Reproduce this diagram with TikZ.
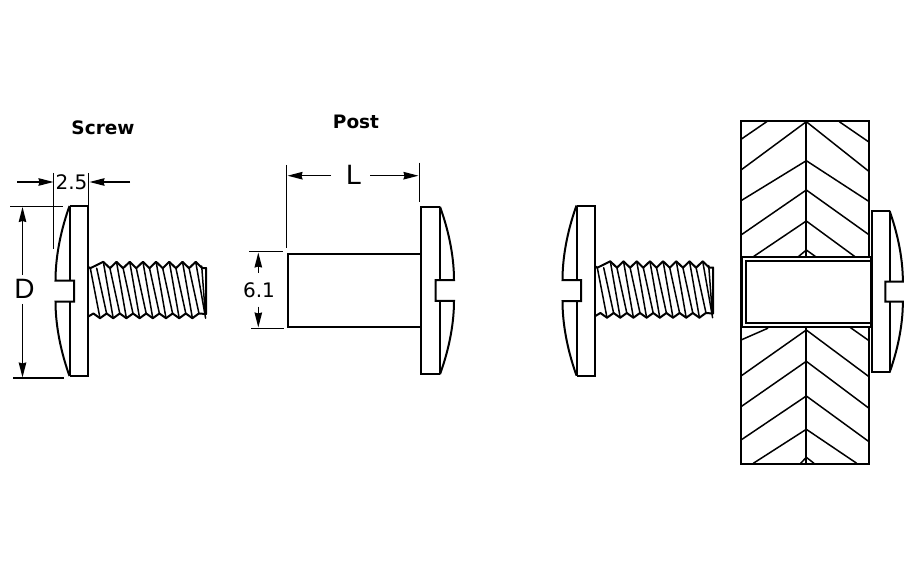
\documentclass[tikz,border=0pt]{standalone}
\usepackage{fontspec}
\setmainfont{DejaVu Sans}
\newfontfamily\capfont{Liberation Sans}
\usetikzlibrary{arrows.meta}
\tikzset{
ARC/.style ={draw=black,line join=miter,line cap=butt,line width=2pt},
HATCH/.style ={draw=black,line cap=round,line width=1.5pt},
DIM/.style ={draw=black,line width=1.5pt,-{Stealth[length=15pt,width=7.5pt,inset=1pt]}},
EXT/.style ={draw=black,line width=1.5pt},
TITLE/.style ={font=\fontsize{18.5}{18.5}\selectfont\bfseries,inner sep=0pt},
NUM/.style ={font=\fontsize{20}{20}\selectfont,inner sep=0pt},
CAP/.style ={font=\capfont\fontsize{28}{28}\selectfont,inner sep=0pt},
pics/HEAD/.style={code={
	\path[ARC] (-18.8,-85) -- (0,-85) -- (0,85) -- (-18.8,85);
	\path[ARC] (-18.8,-85) -- (-18.8,-10.5);
	\path[ARC] (-18.8,10.5) -- (-18.8,85);
	\path[ARC] (-18.8,-85) .. controls (-26,-65) and (-32.8,-38) .. (-32.8,-10.5) -- (-14.3,-10.5) -- (-14.3,10.5) -- (-32.8,10.5) .. controls (-32.8,38) and (-26,65) .. (-18.8,85);
}},
pics/THREAD/.style={code={
	\path[ARC,line join=round] (0,-24) -- (2,-22.8)
		\foreach \i in {0,...,7} { -- ({15+13.2*\i},-29.2) -- ({21.6+13.2*\i},-22.8) }
		-- (117.7,-23) -- (117.7,23) -- (110.5,22.5)
		\foreach \i in {7,...,0} { -- ({11.7+13.2*\i},27.2) -- ({5.1+13.2*\i},22.5) }
		-- (0,25.5);
	\foreach \i in {0,...,7}
		\path[HATCH] ({15+13.2*\i},-29.2) -- ({24.9+13.2*\i},27.2);
	\foreach \i in {0,...,7}
		\path[HATCH] ({8.4+13.2*\i},-22.8) -- ({18.3+13.2*\i},22.5);
	\path[HATCH] (2,-22.8) -- (11.7,27.2);
	\path[HATCH] (113.4,-25) -- (117,23);
}},
}
\begin{document}
\begin{tikzpicture}[x=1pt,y=-1pt]
	\useasboundingbox (0,0) rectangle (920,580);
	% screw
	\node[TITLE] (screwtitle) at (103,128) {Screw};
	\pic at (88.3,291) {HEAD};
	\pic at (88.3,291) {THREAD};
	\node[NUM] (screwgap) at (71.5,182.5) {2.5};
	\node[CAP] (screwdia) at (24.5,289) {D};
	\coordinate (gapleft) at (53.5,182);
	\coordinate (gapright) at (89.5,182);
	\coordinate (gaplefttail) at (17,182);
	\coordinate (gaprighttail) at (130,182);
	\coordinate (diatop) at (22.5,207);
	\coordinate (diabot) at (22.5,377.5);
	\path[EXT] (53.5,173) -- (53.5,249);
	\path[EXT] (88.3,173) -- (88.3,206);
	\path[EXT] (10,206.5) -- (63,206.5);
	\path[EXT] (13,378) -- (64,378);
	\path[DIM] (gaplefttail) -- (gapleft);
	\path[DIM] (gaprighttail) -- (gapright);
	\path[DIM] (screwdia.north -| diatop) ++(0,-4) -- (diatop);
	\path[DIM] (screwdia.south -| diabot) ++(0,5) -- (diabot);
	% post
	\node[TITLE] (posttitle) at (356,122) {Post};
	\pic[xscale=-1,yscale=.985] at (421.2,290.5) {HEAD};
	\path[ARC] (421,254) -- (288.3,254) -- (288.3,326.7) -- (421,326.7);
	\node[CAP] (postlen) at (354,175) {L};
	\node[NUM] (postdia) at (259,290) {6.1};
	\coordinate (lenleft) at (287.5,175.7);
	\coordinate (lenright) at (418.5,175.7);
	\coordinate (diaup) at (258.3,252.5);
	\coordinate (diadown) at (258.3,327.5);
	\path[EXT] (286.7,165) -- (286.7,248);
	\path[EXT] (419.3,162.7) -- (419.3,201.7);
	\path[EXT] (249,251.7) -- (283,251.7);
	\path[EXT] (251,328.3) -- (284,328.3);
	\path[DIM] (331,175.7) -- (lenleft);
	\path[DIM] (370,175.7) -- (lenright);
	\path[DIM] (258.3,272.7) -- (diaup);
	\path[DIM] (258.3,306.7) -- (diadown);
	% assembly, screw half
	\pic at (595.3,290.5) {HEAD};
	\pic at (595.3,290.5) {THREAD};
	% panel
	\foreach \xa/\ya/\xb/\yb in {806.3/121.7/741/170, 806.3/160.7/741/200.7, 806.3/190/741/235, 806.3/221/753.3/256.7, 806.3/250/798.3/256.7, 767.7/121/741/139.3,
		806.3/121.7/869.3/171.7, 806.3/160.7/869.3/201.7, 806.3/190/869.3/235, 806.3/221/855/256.7, 806.3/250/815.7/256.7, 839.3/121.7/869.3/142.3,
		767.7/328.3/741/340, 806.3/330/741/376, 806.3/361.3/741/406.7, 806.3/396/741/440, 806.3/429.3/753.3/463.3, 806.3/457.3/800.7/463.3,
		850/327.3/869/340.7, 806.3/330/869/376.7, 806.3/361.3/869/408.3, 806.3/396/869/441.7, 806.3/429.3/856.7/463.3, 806.3/457.3/814/463.3}
		\path[HATCH] (\xa,\ya) -- (\xb,\yb);
	\path[ARC] (806.3,121) -- (806.3,257);
	\path[ARC] (806.3,327) -- (806.3,464);
	\path[ARC] (741,121) rectangle (869.3,464);
	% post in the hole
	\path[ARC,fill=white] (742.3,257.3) rectangle (871,326.7);
	\path[ARC,line width=1.6pt] (871,260.7) -- (745.7,260.7) -- (745.7,322.7) -- (871,322.7);
	\pic[xscale=-.95,yscale=.95] at (871.7,291.7) {HEAD};
\end{tikzpicture}
\end{document}
